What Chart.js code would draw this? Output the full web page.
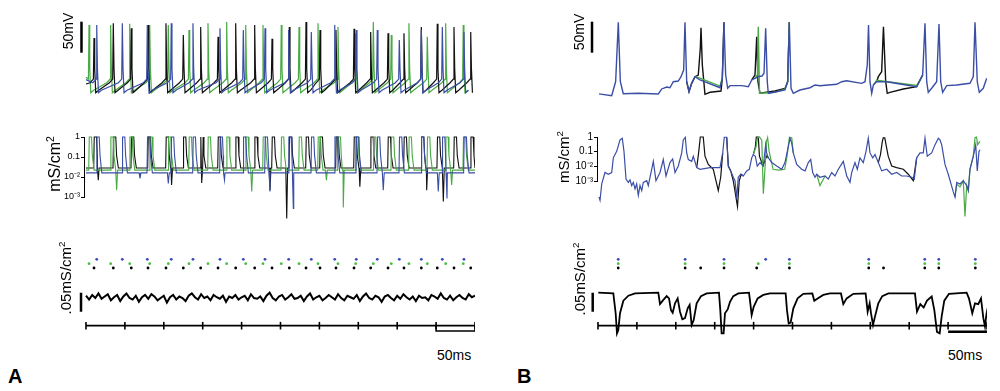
<!DOCTYPE html>
<html>
<head>
<meta charset="utf-8">
<script src="https://cdn.jsdelivr.net/npm/chart.js@4.4.1/dist/chart.umd.min.js"></script>
<style>
  body { margin: 0; background: #fff; width: 1000px; height: 391px; overflow: hidden; position: relative;
         font-family: "Liberation Sans", Arial, sans-serif; color: #000; }
  canvas { position: absolute; }
  .lbl { position: absolute; white-space: nowrap; line-height: 1; }
  .rot { transform: translate(-50%, -50%) rotate(-90deg); }
  sup { font-size: 65%; vertical-align: 0.55em; line-height: 0; }
</style>
</head>
<body>
<canvas id="aVolt" width="435" height="95" style="left:40px;top:10px"></canvas>
<canvas id="aCond" width="435" height="95" style="left:40px;top:130px"></canvas>
<canvas id="aLow" width="435" height="95" style="left:40px;top:245px"></canvas>
<canvas id="bVolt" width="435" height="95" style="left:552px;top:10px"></canvas>
<canvas id="bCond" width="435" height="95" style="left:552px;top:130px"></canvas>
<canvas id="bLow" width="435" height="95" style="left:552px;top:245px"></canvas>

<div class="lbl rot" style="left:68px;top:31px;font-size:14px">50mV</div>
<div class="lbl rot" style="left:579px;top:32px;font-size:14px">50mV</div>
<div class="lbl rot" style="left:55px;top:164px;font-size:16px">mS/cm<sup>2</sup></div>
<div class="lbl rot" style="left:563px;top:157px;font-size:15px">mS/cm<sup>2</sup></div>
<div class="lbl rot" style="left:65px;top:278px;font-size:15px">.05mS/cm<sup>2</sup></div>
<div class="lbl rot" style="left:579px;top:279px;font-size:15px">.05mS/cm<sup>2</sup></div>
<div class="lbl" style="left:437px;top:348px;font-size:14px">50ms</div>
<div class="lbl" style="left:948px;top:348px;font-size:14px">50ms</div>
<div class="lbl" style="left:8px;top:366px;font-size:20px;font-weight:bold">A</div>
<div class="lbl" style="left:517px;top:366px;font-size:20px;font-weight:bold">B</div>

<script>
// ---- panel A: spike times (ms) and spike peaks (mV) per cell ----
const aBlueSpikes  = [13.8, 46.7, 78.8, 109.6, 137.5, 172.2, 202.2, 230.1, 260.5, 289.6, 319.7, 347.4, 374.4, 402.7, 431, 458, 485.8];
const aBluePeaks   = [35, 38, 35, 38, 38, 30, 27, 30, 27, 24, 35, 27, 27, 11, 27, 32, 24];
const aGreenSpikes = [3.9, 31.7, 56.2, 81.9, 105.8, 132.4, 156.8, 180.8, 205.3, 227.5, 251, 273.8, 298.2, 323.9, 346.6, 369.3, 392.4, 415.1, 438.7, 462.3, 484.9];
const aGreenPeaks  = [35, 35, 37, 35, 35, 27, 38, 40, 35, 35, 35, 32, 38, 32, 22, 40, 19, 38, 16, 38, 35];
const aBlackSpikes = [10.3, 35.1, 58.2, 79.7, 102.8, 125.1, 147.4, 169.7, 192.4, 216.8, 239.1, 261.3, 282.8, 300.8, 321.3, 344.5, 365.9, 388.2, 408.7, 431, 451.5, 473, 494.5];
const aBlackPeaks  = [14, 38, 30, 35, 38, 19, 32, 16, 38, 35, 13, 32, 40, 27, 27, 29, 24, 22, 22, 32, 37, 32, 24];

// voltage levels (mV)
const aStart = { blue: -53, green: -49, black: -60 };
const aLevels = { ramp: -58, thresh: -52, fall: -35, trough: -74, after: -70 };

// panel A conductance: resting level and downward excursions [ms, mS/cm2]
const aBase = { blue: 0.016, green: 0.022, black: 0.028 };
const aBlueDips  = [[69.4, 0.0085], [105.8, 0.0048], [178, 0.007], [236.5, 0.0019], [266.5, 0.00027], [382.1, 0.0022], [452.8, 0.0019], [464, 0.00085]];
const aGreenDips = [[39.4, 0.0022], [213, 0.0019], [309, 0.007], [330.7, 0.0003], [470, 0.004]];
const aBlackDips = [[15.8, 0.007], [110, 0.004], [148.7, 0.005], [236.5, 0.0022], [258, 0.000085], [352, 0.0033], [437.9, 0.0022], [459.3, 0.0006]];

// panel A bottom trace, sampled every 4 ms (mS/cm2)
const aNoiseStep = 4;
const aNoise = [
  .106,.096,.108,.100,.112,.098,.104,.110,.094,.102,
  .108,.092,.104,.112,.100,.096,.106,.090,.102,.108,
  .098,.110,.104,.094,.100,.106,.088,.102,.108,.096,
  .104,.100,.092,.106,.112,.102,.096,.110,.100,.104,
  .094,.108,.102,.098,.106,.090,.104,.100,.108,.096,
  .102,.106,.094,.110,.100,.098,.104,.092,.106,.114,
  .100,.094,.104,.108,.096,.102,.110,.098,.100,.106,
  .092,.104,.112,.096,.102,.106,.094,.100,.108,.102,
  .096,.110,.100,.094,.106,.102,.098,.108,.092,.104,
  .112,.100,.096,.106,.102,.090,.104,.108,.100,.094,
  .106,.098,.110,.102,.096,.104,.092,.106,.100,.102,
  .094,.108,.104,.098,.112,.100,.096,.106,.094,.102,
  .108,.100,.096,.110,.102,.106
];

// ---- panel B: spike times (ms) ----
const bBlueSpikes  = [26, 112, 162, 215.5, 246, 348, 420, 438, 485];
const bGreenSpikes = [26, 112, 162, 206, 246, 348, 420, 438, 485];
const bBlackSpikes = [26, 112, 132, 162, 204, 246, 348, 367, 420, 438, 485];

// panel B voltage [ms, mV]; black/green only where they leave the blue trace
const bBlueVolt = [
  [1.3,-76],[17.6,-79],[22.7,-56],[26.1,39.5],[28.7,-56],[32.5,-75.6],[51.8,-75],[77.5,-76],[81.9,-68],[88.3,-64.8],
  [92.5,-66],[96.8,-56.3],[103.2,-55.2],[106.7,-48.2],[110.1,-37.4],[111.8,39.5],[114,-56.3],[117,-72.4],[120.4,-58.9],
  [124.7,-48.2],[131.1,-53.5],[156.8,-66],[159.8,-50.8],[161.9,39.5],[164.1,-45.5],[166.7,-66.9],[169.7,-62.7],
  [184.7,-62.7],[193.2,-64.4],[197.6,-53.5],[201.8,-50.8],[206,-48.2],[210.8,-47.1],[213.4,-42.7],[215.5,29.8],
  [217.6,-56.3],[218.9,-75],[227.5,-72.9],[240.3,-69.7],[243.8,-56.3],[245.9,39.5],[248.1,-66.9],[251,-75],
  [259.6,-69.7],[272.5,-66],[278.9,-61.6],[285.3,-62.7],[306.8,-60.5],[313.2,-56.3],[319.6,-54.7],[338.9,-58.9],
  [343.2,-56.3],[346.1,-29.4],[347.7,35.2],[349.6,-56.3],[351.8,-75],[353.9,-61.7],[358.2,-56.3],[371.1,-56.3],
  [388.2,-60],[409.6,-64.4],[417.3,-45.5],[420.3,37.9],[422.5,-56.3],[424.5,-73.4],[428.9,-66.9],[435.3,-56.3],
  [438.3,36.8],[440.5,-56.3],[443,-73.4],[448.2,-62.7],[461,-61.6],[478.1,-58.9],[482.4,-48.2],[484.6,39.5],
  [487.5,-56.3],[490.1,-73.4],[495.2,-66.9],[499.6,-50.8]
];
const bBlackVolt = [
  [114,-56.3],[117,-72.4],[120.4,-58.9],[124.7,-48.2],[128.9,-45.5],[131.5,-2.4],[132.4,30.8],[134.1,-29.4],
  [137.5,-76.6],[144,-73.4],[158.1,-71.3],[159.8,-50.8],[161.9,39.5],[180,null],
  [197.6,-53.5],[201.8,-45.5],[204,16.3],[205.6,-56.3],[208.2,-75],[227.5,-71.3],[240.3,-67.3],[243.8,-56.3],[245.9,39.5],[300,null],
  [358.2,-56.3],[360.3,-48.2],[364.6,-40.2],[366.9,32.4],[369.8,-56.3],[371.8,-75],[375.3,-73.4],[392.4,-68.1],[409.6,-64.4],[417.3,-45.5]
];
const bGreenVolt = [
  [124.7,-48.2],[131.1,-50.5],[156.8,-63.5],[159.8,-50.8],[175,null],
  [201.8,-50.8],[205,-45],[206,32.4],[207.6,-75],[227.5,-73.5],[240.3,-68.5],[243.8,-56.3],[245.9,39.5],[300,null],
  [353.9,-61.7],[358.2,-54],[409.6,-62.5],[417.3,-45.5]
];

// panel B conductance [ms, mS/cm2]
const bBlueCond = [
  [1.3,8.1e-5],[2.6,4.9e-5],[4.8,6.3e-4],[9.0,3.8e-3],[13.2,2.9e-3],[17.6,3.8e-3],[19.7,0.038],[24.0,0.105],[28.3,0.63],
  [31.2,0.82],[33.4,0.105],[36.0,1.35e-3],[38.9,8.1e-4],[41.1,1.2e-3],[43.3,4.9e-4],[45.4,8.1e-4],[47.6,2.9e-4],
  [49.7,6.3e-4],[51.8,1.05e-4],[54.0,4.9e-4],[56.2,2.2e-4],[58.2,8.1e-4],[62.6,1.05e-3],[64.6,4.9e-4],[69.0,6.3e-3],
  [71.1,0.022],[74.5,1.05e-3],[79.7,3.8e-3],[83.9,0.029],[87.4,2.2e-3],[92.5,0.018],[96.0,0.032],[99.0,3.8e-3],
  [103.2,0.0105],[107.6,0.082],[109.6,0.63],[112.2,0.96],[114.0,0.082],[116.1,0.029],[120.4,0.022],[122.5,0.049],
  [126.9,8.2e-3],[131.1,6.3e-3],[144.0,8.2e-3],[156.8,8.2e-3],[160.3,0.082],[162.3,0.96],[165.4,0.96],[167.5,0.0105],
  [170.6,4.9e-3],[173.9,1.8e-3],[176.1,1.05e-3],[178.3,6.3e-5],[180.3,1.8e-3],[183.4,2.9e-3],[186.8,2.2e-3],
  [191.1,4.9e-3],[194.5,6.3e-3],[197.6,0.038],[199.6,0.063],[202.2,0.049],[204.7,0.0105],[208.2,0.018],[212.5,0.0105],
  [215.5,0.29],[216.8,0.082],[218.9,0.038],[223.3,0.018],[229.7,0.0105],[236.1,6.3e-3],[240.3,0.018],[244.6,0.22],
  [246.8,0.82],[249.0,0.38],[251.0,0.082],[255.4,0.0135],[261.8,6.3e-3],[266.1,4.9e-3],[270.3,0.018],[273.4,0.029],
  [276.0,3.8e-3],[278.9,1.8e-3],[281.1,2.9e-3],[285.3,1.8e-3],[291.8,2.2e-3],[296.0,1.35e-3],[300.4,3.8e-3],
  [304.6,2.2e-3],[308.9,6.3e-3],[315.3,0.022],[319.7,2.2e-3],[323.9,8.1e-4],[326.1,3.8e-3],[330.3,0.018],[333.3,6.3e-3],
  [336.7,0.038],[341.0,0.018],[344.5,0.105],[347.4,0.82],[349.6,0.082],[353.1,0.038],[356.0,0.063],[360.3,0.018],
  [364.6,4.9e-3],[371.1,6.3e-3],[377.5,2.9e-3],[383.9,3.8e-3],[390.3,2.2e-3],[396.8,2.2e-3],[403.2,1.8e-3],
  [406.5,1.35e-3],[409.6,0.038],[413.9,0.082],[418.1,0.082],[420.3,0.82],[423.2,0.049],[428.9,0.082],[433.1,0.29],
  [437.4,0.82],[439.6,0.63],[441.8,0.29],[446.0,0.0135],[450.2,2.9e-3],[456.7,1.8e-4],[458.9,8.1e-5],[461.1,8.1e-4],
  [465.3,6.3e-4],[469.5,1.05e-3],[473.9,4.9e-4],[476.0,2.2e-4],[478.1,6.3e-3],[482.4,0.049],[485.5,0.29],[487.5,4.9e-3],
  [489.7,0.105],[491.0,0.135]
];
const bBlackCond = [
  [126.9,8.2e-3],[129.5,0.1],[131.5,1],[135.3,1],[137.5,0.049],[141.8,0.0135],[148.2,6.3e-3],[154.6,2.2e-4],[157.7,1.8e-3],[160.3,0.082],[163,null],
  [165.4,0.96],[167.5,0.0105],[170.6,4.9e-3],[173.9,1.0e-3],[179.3,1.8e-5],[181.5,1.0e-3],[184,2.9e-3],[186.8,2.2e-3],[190,null],
  [199.6,0.063],[202.2,0.2],[203.5,1],[206,1],[207.5,0.05],[212,0.0105],[216.8,0.05],[218.9,0.038],[225,null],
  [360.3,0.018],[363,0.06],[365.5,0.5],[366.7,0.9],[368.7,0.85],[370.2,0.3],[373,0.05],[377.5,0.0105],[383.9,8.2e-3],
  [392.4,6.3e-3],[398.8,2.9e-3],[405.3,1.05e-3],[409.6,0.038]
];
const bGreenCond = [
  [199.6,0.063],[203,0.2],[205,0.9],[207.5,1],[210.5,0.6],[212.5,1.35e-4],[214.6,6.3e-3],[216.5,0.5],[218,0.9],[220,0.1],
  [225,6.3e-3],[232,5.5e-3],[240,6.3e-3],[243,0.05],[246,0.95],[249,0.9],[251,0.082],[265,null],
  [281.1,2.9e-3],[285.3,4.9e-4],[291.8,2.2e-3],[300,null],
  [458.9,8.1e-5],[461.1,6.3e-4],[465.3,4e-4],[469.5,1e-3],[471.7,3.8e-6],[473.9,5e-4],[476,2.2e-4],[478.1,6.3e-3],
  [482.4,0.05],[484.6,0.9],[486.5,1],[488,0.3],[491,0.5]
];

// panel B bottom trace [ms, mS/cm2]
const bLowTrace = [
  [0.4,0.114],[19.7,0.112],[22.7,0.060],[24.4,0.007],[26.1,0.016],[28.3,0.060],[32.6,0.093],[39.0,0.106],[47.6,0.112],
  [77.5,0.114],[79.7,0.084],[84.0,0.095],[88.3,0.105],[91.3,0.099],[93.8,0.068],[96.0,0.061],[99.0,0.086],[102.4,0.099],
  [105.4,0.064],[108.4,0.044],[111.8,0.047],[115.3,0.073],[117.8,0.082],[120.4,0.029],[123.0,0.042],[126.8,0.086],
  [132.4,0.105],[139.7,0.112],[155.5,0.114],[157.2,0.068],[158.9,0.007],[161.5,0.007],[163.2,0.060],[166.7,0.070],
  [169.7,0.090],[173.9,0.105],[180.4,0.112],[194.1,0.114],[195.8,0.086],[197.5,0.055],[200.1,0.077],[205.2,0.099],
  [212.5,0.108],[221.1,0.112],[241.2,0.112],[242.9,0.068],[245.1,0.033],[247.6,0.035],[251.1,0.073],[256.6,0.099],
  [263.9,0.111],[275.5,0.112],[278.0,0.093],[282.3,0.099],[289.6,0.108],[298.2,0.112],[312.3,0.112],[315.3,0.084],
  [319.6,0.099],[328.2,0.111],[344.0,0.112],[346.6,0.064],[349.2,0.086],[350.9,0.060],[353.5,0.029],[356.0,0.051],
  [360.3,0.086],[365.4,0.105],[373.2,0.112],[407.4,0.112],[410.0,0.064],[414.3,0.084],[418.6,0.075],[422.9,0.093],
  [428.9,0.104],[432.3,0.068],[435.7,0.011],[439.2,0.007],[441.7,0.051],[445.1,0.093],[451.1,0.111],[473.8,0.114],
  [476.8,0.099],[481.1,0.060],[484.6,0.086],[488.8,0.084],[492.3,0.099],[495.3,0.047],[497.4,0.025],[499.1,0.055],[500.8,0.073]
];

// axes and scale bars
const timeTicks = [0, 50, 100, 150, 200, 250, 300, 350, 400, 450, 500];
const condTickValues = [1, 0.1, 0.01, 0.001];
const condTickLabels = ['1', '0.1', '10\u207B\u00B2', '10\u207B\u00B3'];
const mvBar = [-9.5, 40.5];       // 50 mV
const gBar = [0.0639, 0.1139];    // .05 mS/cm2
const msBar = [450, 500];         // 50 ms

const blue = '#3b4ea6', green = '#4aab45', black = '#111111';
const xMin = -59.12, xMax = 500;

Chart.defaults.font.family = "'Liberation Sans', Arial, sans-serif";
Chart.defaults.color = '#000';

const pts = arr => arr.map(([x, y]) => ({ x, y }));

function voltTrace(spikes, peaks, start) {
  const out = [{ x: 0, y: start }];
  spikes.forEach((t, i) => {
    out.push({ x: t - 5, y: aLevels.ramp }, { x: t - 0.8, y: aLevels.thresh }, { x: t, y: peaks[i] },
             { x: t + 0.9, y: aLevels.fall }, { x: t + 2.2, y: aLevels.trough }, { x: t + 6, y: aLevels.after });
  });
  return out.filter(p => p.x >= 0 && p.x <= 500).sort((a, b) => a.x - b.x);
}

function condTrace(spikes, dips, base) {
  const out = [{ x: 0, y: base }, { x: 500, y: base }];
  spikes.forEach(t => out.push({ x: t - 0.4, y: base }, { x: t + 0.3, y: 1 }, { x: t + 3.2, y: 1 },
                               { x: t + 4.2, y: 0.12 }, { x: t + 6.5, y: base }));
  dips.forEach(([t, g]) => out.push({ x: t - 1.2, y: base }, { x: t, y: g }, { x: t + 1.2, y: base }));
  return out.filter(p => p.x >= 0 && p.x <= 500).sort((a, b) => a.x - b.x);
}

function line(data, color, width, yAxisID) {
  return { data, borderColor: color, borderWidth: width, pointRadius: 0, fill: false, clip: false,
           tension: 0, spanGaps: false, yAxisID: yAxisID || 'y' };
}
function dots(times, row, color) {
  return { data: times.map(t => ({ x: t, y: row })), showLine: false, pointRadius: 1.4, pointBorderWidth: 0,
           pointBackgroundColor: color, clip: false, yAxisID: 'yr' };
}

function makeChart(id, datasets, scales, padding) {
  return new Chart(document.getElementById(id), {
    type: 'line',
    data: { datasets },
    options: {
      responsive: false, animation: false, events: [],
      layout: { padding: padding || 0, autoPadding: false },
      plugins: { legend: { display: false }, tooltip: { enabled: false } },
      scales
    }
  });
}

const hiddenX = (min) => ({ type: 'linear', min, max: xMax, display: false });

// voltage panels
function voltScales() {
  return { x: hiddenX(xMin), y: { type: 'linear', min: -93.87, max: 59.35, display: false } };
}
makeChart('aVolt', [
  line(voltTrace(aBlueSpikes, aBluePeaks, aStart.blue), blue, 1.2),
  line(voltTrace(aBlackSpikes, aBlackPeaks, aStart.black), black, 1.2),
  line(voltTrace(aGreenSpikes, aGreenPeaks, aStart.green), green, 1.2),
  line([{ x: -5.8, y: mvBar[0] }, { x: -5.8, y: mvBar[1] }], '#000', 2.5)
], voltScales());

makeChart('bVolt', [
  line(pts(bBlueVolt), blue, 1.4),
  line(pts(bGreenVolt), green, 1.4),
  line(pts(bBlackVolt), black, 1.4),
  line([{ x: -7.7, y: mvBar[0] }, { x: -7.7, y: mvBar[1] }], '#000', 2.5)
], voltScales());

// conductance panels (log axis)
function condScales(xmin, axisWidth, fontSize) {
  return {
    x: hiddenX(xmin),
    y: {
      type: 'logarithmic', min: 0.001, max: 1, position: 'left',
      afterBuildTicks: s => { s.ticks = condTickValues.map(v => ({ value: v })); },
      afterFit: s => { s.width = axisWidth; s.paddingTop = 0; s.paddingBottom = 0; },
      ticks: { autoSkip: false, padding: 1, font: { size: fontSize },
               callback: v => condTickLabels[condTickValues.indexOf(v)] },
      grid: { drawOnChartArea: false, drawTicks: true, tickLength: 3, color: '#000', lineWidth: 1 },
      border: { display: true, color: '#000', width: 1 }
    }
  };
}
makeChart('aCond', [
  line(condTrace(aBlueSpikes, aBlueDips, aBase.blue), blue, 1.1),
  line(condTrace(aGreenSpikes, aGreenDips, aBase.green), green, 1.1),
  line(condTrace(aBlackSpikes, aBlackDips, aBase.black), black, 1.1)
], condScales(-2.57, 44, 9), { top: 7, bottom: 28, left: 0, right: 0 });

makeChart('bCond', [
  line(pts(bBlueCond), blue, 1.2),
  line(pts(bGreenCond), green, 1.2),
  line(pts(bBlackCond), black, 1.2)
], condScales(-1.29, 45, 10), { top: 7, bottom: 44, left: 0, right: 0 });

// lower panels: raster dots, summed conductance, time axis
function lowScales() {
  return {
    x: hiddenX(xMin),
    y: { type: 'linear', min: -0.0105, max: 0.2395, display: false },
    yr: { type: 'linear', min: -16.55, max: 5.29, display: false },
    yt: { type: 'linear', min: -3.76, max: 21.2, display: false }
  };
}
function timeAxis() {
  return [
    line([{ x: 0, y: 0 }, { x: 500, y: 0 }], '#000', 1.8, 'yt'),
    { data: timeTicks.map(t => ({ x: t, y: 0 })), showLine: false, pointStyle: 'line', pointRotation: 90,
      pointRadius: 3.8, pointBorderWidth: 1.6, pointBorderColor: '#000', clip: false, yAxisID: 'yt' }
  ];
}

makeChart('aLow', [
  dots(aBlueSpikes, 2, '#3a47b8'),
  dots(aGreenSpikes, 1, '#45c045'),
  dots(aBlackSpikes, 0, '#000'),
  line(aNoise.map((v, i) => ({ x: i * aNoiseStep, y: v })), '#000', 2),
  line([{ x: -6.4, y: gBar[0] }, { x: -6.4, y: gBar[1] }], '#000', 2.5),
  ...timeAxis(),
  line([{ x: msBar[0], y: 0 }, { x: msBar[0], y: -1.4 }, { x: msBar[1], y: -1.4 }, { x: msBar[1], y: 0 }], '#000', 1.5, 'yt')
], lowScales());

makeChart('bLow', [
  dots(bBlueSpikes, 2, '#3a47b8'),
  dots(bGreenSpikes, 1, '#45c045'),
  dots(bBlackSpikes, 0, '#000'),
  line(pts(bLowTrace), '#000', 1.8),
  line([{ x: -6.8, y: gBar[0] }, { x: -6.8, y: gBar[1] }], '#000', 2.5),
  ...timeAxis(),
  line([{ x: msBar[0], y: -1.6 }, { x: msBar[1], y: -1.6 }], '#000', 2.5, 'yt')
], lowScales());
</script>
</body>
</html>
